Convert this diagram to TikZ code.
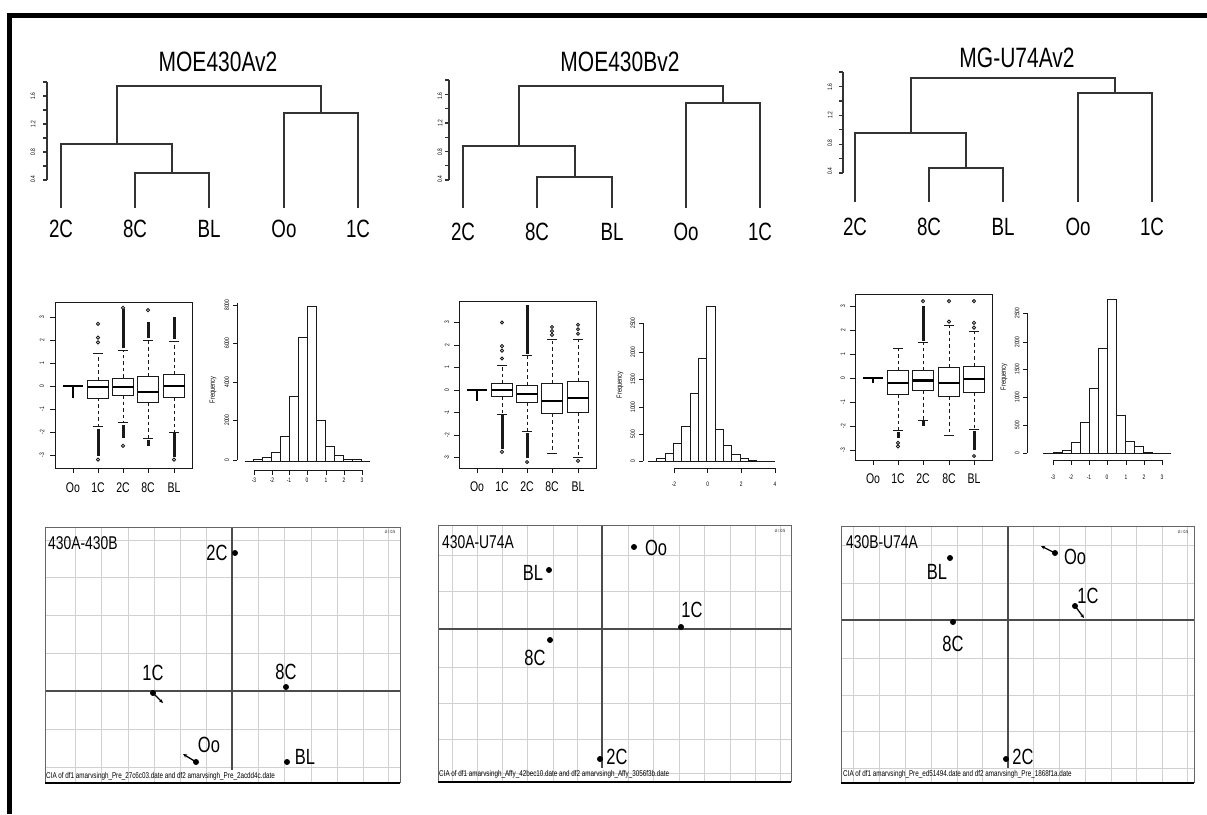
\documentclass[tikz,border=0pt]{standalone}
\usepackage{fontspec}
\setmainfont{Liberation Sans}
\newfontfamily\cf[FakeStretch=0.75]{Liberation Sans}
\usetikzlibrary{arrows.meta}
\tikzset{
 tt/.style={font=\cf\fontsize{28}{30}\selectfont, inner sep=0pt, text=black},
 leaf/.style={font=\cf\fontsize{25}{27}\selectfont, inner sep=0pt, text=black},
 tk/.style={font=\cf\fontsize{6.5}{7}\selectfont, inner sep=0pt, rotate=90, text=black},
 tkh/.style={font=\cf\fontsize{6.5}{7}\selectfont, inner sep=0pt, text=black},
 bxl/.style={font=\cf\fontsize{14}{15}\selectfont, inner sep=0pt, text=black},
 frq/.style={font=\cf\fontsize{7.5}{8}\selectfont, inner sep=0pt, rotate=90, text=black},
 ptl/.style={font=\cf\fontsize{22}{23}\selectfont, inner sep=0pt, text=black},
 ptt/.style={font=\cf\fontsize{18.5}{20}\selectfont, inner sep=0pt, text=black},
 captxt/.style={font=\cf\fontsize{8.4}{9}\selectfont, inner sep=0pt, anchor=west, text=black},
 dtxt/.style={font=\cf\fontsize{4.5}{5}\selectfont, inner sep=0pt, text=black},
 dl/.style={line width=1.2pt, draw=black!80},
 bpl/.style={line width=0.9pt, draw=black!90},
 hb/.style={line width=0.9pt, draw=black!90},
 grd/.style={line width=0.8pt, draw=black!18},
 ax/.style={line width=1.1pt, draw=black!70},
 fr/.style={line width=1pt, draw=black!60},
 dot/.style={fill=black},
 arw/.style={line width=1.3pt, -{Stealth[length=4pt,width=3.5pt]}},
}
\newcommand\bpx[6]{%
 \draw[bpl] ({#1-10.5},{\yz-(#3)*\un}) rectangle ({#1+10.5},{\yz-(#5)*\un});
 \draw[line width=2.2pt] ({#1-10.5},{\yz-(#4)*\un}) -- ({#1+10.5},{\yz-(#4)*\un});
 \draw[bpl,dash pattern=on 3.5pt off 3pt] (#1,{\yz-(#3)*\un}) -- (#1,{\yz-(#2)*\un});
 \draw[bpl,dash pattern=on 3.5pt off 3pt] (#1,{\yz-(#5)*\un}) -- (#1,{\yz-(#6)*\un});
 \draw[bpl] ({#1-5},{\yz-(#2)*\un}) -- ({#1+5},{\yz-(#2)*\un});
 \draw[bpl] ({#1-5},{\yz-(#6)*\un}) -- ({#1+5},{\yz-(#6)*\un});
}
\newcommand\odn[3]{\draw[line width=3pt, draw=black!90] (#1,{\yz-(#2)*\un}) -- (#1,{\yz-(#3)*\un});}
\newcommand\ocr[2]{\draw[line width=0.9pt, draw=black!90] (#1,{\yz-(#2)*\un}) circle[radius=1.6pt];}
\newcommand\ooo[2]{%
 \draw[line width=2.6pt] ({#1-10},\yz) -- ({#1+10},\yz);
 \draw[line width=1.8pt] (#1,\yz) -- (#1,{\yz-(#2)*\un});
}
\newcommand\hist[4]{%
 \foreach \t [count=\i from 0] in {#4} \draw[hb] ({#1+\i*#2},#3) rectangle ({#1+(\i+1)*#2},\t);
}
\begin{document}
\begin{tikzpicture}[x=1pt,y=-1pt]
\useasboundingbox (0,0) rectangle (1207,814);
\fill[white] (0,0) rectangle (1207,814);
% outer frame (top and left)
\fill[black] (7,13) rectangle (1207,18);
\fill[black] (7,13) rectangle (12,814);

% ================= Dendrograms =================
% panel 1
\node[tt] (t1) at (218,62) {MOE430Av2};
\draw[dl] (47,82) -- (47,180);
\foreach \y in {82,96,110,124,138,152,166,180} \draw[dl] (47,\y) -- (43,\y);
\node[tk] (a11) at (33,96) {1.6};
\node[tk] (a12) at (33,124) {1.2};
\node[tk] (a13) at (33,152) {0.8};
\node[tk] (a14) at (33,179) {0.4};
\draw[dl] (135,208) -- (135,173) -- (209,173) -- (209,208);
\draw[dl] (61,208) -- (61,144) -- (172,144) -- (172,173);
\draw[dl] (284,208) -- (284,113) -- (358,113) -- (358,208);
\draw[dl] (117,144) -- (117,86) -- (321,86) -- (321,113);
\node[leaf] (l11) at (61,229) {2C};
\node[leaf] (l12) at (135,229) {8C};
\node[leaf] (l13) at (209,229) {BL};
\node[leaf] (l14) at (284,229) {Oo};
\node[leaf] (l15) at (358,229) {1C};

% panel 2
\node[tt] (t2) at (620,62) {MOE430Bv2};
\draw[dl] (449,80) -- (449,180);
\foreach \y in {80,94.3,108.6,122.9,137.1,151.4,165.7,180} \draw[dl] (449,\y) -- (445,\y);
\node[tk] (a21) at (440,96) {1.6};
\node[tk] (a22) at (440,123) {1.2};
\node[tk] (a23) at (440,152) {0.8};
\node[tk] (a24) at (440,179) {0.4};
\draw[dl] (537,208) -- (537,177) -- (612,177) -- (612,208);
\draw[dl] (463,208) -- (463,146) -- (575,146) -- (575,177);
\draw[dl] (686,208) -- (686,103) -- (760,103) -- (760,208);
\draw[dl] (519,146) -- (519,86) -- (723,86) -- (723,103);
\node[leaf] (l21) at (463,232) {2C};
\node[leaf] (l22) at (537,232) {8C};
\node[leaf] (l23) at (612,232) {BL};
\node[leaf] (l24) at (686,232) {Oo};
\node[leaf] (l25) at (760,232) {1C};

% panel 3
\node[tt] (t3) at (1017,58) {MG-U74Av2};
\draw[dl] (843,72) -- (843,173);
\foreach \y in {72,86.4,100.9,115.3,129.7,144.1,158.6,173} \draw[dl] (843,\y) -- (839,\y);
\node[tk] (a31) at (830,87) {1.6};
\node[tk] (a32) at (830,115) {1.2};
\node[tk] (a33) at (830,143) {0.8};
\node[tk] (a34) at (830,171) {0.4};
\draw[dl] (929,202) -- (929,168) -- (1003,168) -- (1003,202);
\draw[dl] (855,202) -- (855,133) -- (966,133) -- (966,168);
\draw[dl] (1078,202) -- (1078,93) -- (1152,93) -- (1152,202);
\draw[dl] (911,133) -- (911,78) -- (1115,78) -- (1115,93);
\node[leaf] (l31) at (855,227) {2C};
\node[leaf] (l32) at (929,227) {8C};
\node[leaf] (l33) at (1003,227) {BL};
\node[leaf] (l34) at (1078,227) {Oo};
\node[leaf] (l35) at (1152,227) {1C};

% ================= Boxplots =================
% panel 1
\def\yz{386}\def\un{23}
\draw[bpl] (55,302) rectangle (192,468);
\foreach \v in {-3,...,3} {
  \draw[bpl] (55,{\yz-\v*\un}) -- (50,{\yz-\v*\un});
  \node[tk] (b1y\v) at (42,{\yz-\v*\un}) {\v};
}
\ooo{73}{-0.5}
\bpx{98}{1.43}{0.26}{-0.05}{-0.52}{-1.78}
\ocr{98}{1.9}\ocr{98}{2.1}\ocr{98}{2.7}\odn{98}{-1.85}{-3.05}\ocr{98}{-3.2}
\bpx{123}{1.56}{0.35}{-0.05}{-0.4}{-1.6}
\odn{123}{1.65}{3.35}\ocr{123}{3.4}\odn{123}{-1.68}{-2.25}\ocr{123}{-2.6}
\bpx{148}{2.0}{0.4}{-0.25}{-0.7}{-2.3}
\odn{148}{2.08}{2.8}\ocr{148}{3.3}\odn{148}{-2.35}{-2.6}
\bpx{174}{1.95}{0.5}{0}{-0.5}{-2.0}
\odn{174}{2.05}{3.0}\odn{174}{-2.05}{-3.1}\ocr{174}{-3.2}
\foreach \xc/\lb [count=\i] in {73/Oo,98/1C,123/2C,148/8C,174/BL} {
  \draw[bpl] (\xc,468) -- (\xc,473);
  \node[bxl] (b1x\i) at (\xc,488) {\lb};
}
% histogram 1
\hist{253.3}{9.05}{461}{459,457.3,452.7,436,396.7,337.7,306,420,446.7,455,459,459.3}
\draw[hb] (245,461) -- (370,461);
\draw[hb] (237,303) -- (237,460);
\foreach \y/\lb [count=\i] in {460/0,420/2000,382/4000,343/6000,305/8000} {
  \draw[hb] (237,\y) -- (233,\y);
  \node[tk] (h1y\i) at (227,\y) {\lb};
}
\node[frq] (h1f) at (213,390) {Frequency};
\draw[hb] (254,470) -- (362,470);
\foreach \x/\lb [count=\i] in {254/-3,272/-2,289/-1,307/0,326/1,344/2,362/3} {
  \draw[hb] (\x,470) -- (\x,475);
  \node[tkh] (h1x\i) at (\x,480) {\lb};
}

% panel 2
\def\yz{390}\def\un{22.5}
\draw[bpl] (459,301) rectangle (596,468);
\foreach \v in {-3,...,3} {
  \draw[bpl] (459,{\yz-\v*\un}) -- (454,{\yz-\v*\un});
  \node[tk] (b2y\v) at (447,{\yz-\v*\un}) {\v};
}
\ooo{477}{-0.5}
\bpx{502}{1.07}{0.27}{0}{-0.3}{-1.07}
\ocr{502}{1.4}\ocr{502}{1.75}\ocr{502}{1.95}\ocr{502}{3.0}\odn{502}{-1.12}{-2.6}\ocr{502}{-2.75}
\bpx{527}{1.55}{0.22}{-0.17}{-0.55}{-1.85}
\odn{527}{1.6}{3.8}\odn{527}{-1.9}{-3.0}\ocr{527}{-3.2}
\bpx{552}{2.25}{0.3}{-0.5}{-1.05}{-2.8}
\ocr{552}{2.45}\ocr{552}{2.62}\ocr{552}{2.8}
\bpx{578}{2.25}{0.38}{-0.37}{-1.0}{-3.0}
\ocr{578}{2.5}\ocr{578}{2.7}\ocr{578}{2.9}\ocr{578}{-3.15}
\foreach \xc/\lb [count=\i] in {477/Oo,502/1C,527/2C,552/8C,578/BL} {
  \draw[bpl] (\xc,468) -- (\xc,473);
  \node[bxl] (b2x\i) at (\xc,487) {\lb};
}
% histogram 2
\hist{656.7}{8.35}{461}{458.3,453.3,443.3,426.7,393.3,358.3,306.7,429.3,445.7,454.3,458.3,460}
\draw[hb] (648,461) -- (775,461);
\draw[hb] (643,323) -- (643,461);
\foreach \y/\lb [count=\i] in {461/0,434/500,407/1000,379/1500,352/2000,323/2500} {
  \draw[hb] (643,\y) -- (639,\y);
  \node[tk] (h2y\i) at (633,\y) {\lb};
}
\node[frq] (h2f) at (620,385) {Frequency};
\draw[hb] (674,468) -- (775,468);
\foreach \x/\lb [count=\i] in {674/-2,707.7/0,741.3/2,775/4} {
  \draw[hb] (\x,468) -- (\x,473);
  \node[tkh] (h2x\i) at (\x,484) {\lb};
}

% panel 3
\def\yz{378}\def\un{24}
\draw[bpl] (855,294) rectangle (992,460);
\foreach \v in {-3,...,3} {
  \draw[bpl] (855,{\yz-\v*\un}) -- (850,{\yz-\v*\un});
  \node[tk] (b3y\v) at (843,{\yz-\v*\un}) {\v};
}
\ooo{873}{-0.2}
\bpx{898}{1.25}{0.3}{-0.2}{-0.7}{-2.2}
\odn{898}{-2.25}{-2.5}\ocr{898}{-2.7}\ocr{898}{-2.85}
\bpx{923}{1.5}{0.3}{-0.1}{-0.5}{-1.75}
\odn{923}{1.55}{3.0}\ocr{923}{3.2}\odn{923}{-1.8}{-2.0}
\bpx{949}{2.2}{0.45}{-0.2}{-0.75}{-2.4}
\ocr{949}{2.35}\ocr{949}{3.2}
\bpx{974}{1.95}{0.5}{-0.05}{-0.6}{-2.15}
\ocr{974}{2.1}\ocr{974}{2.3}\ocr{974}{3.2}\odn{974}{-2.2}{-3.0}\ocr{974}{-3.25}
\foreach \xc/\lb [count=\i] in {873/Oo,898/1C,923/2C,949/8C,974/BL} {
  \draw[bpl] (\xc,460) -- (\xc,465);
  \node[bxl] (b3x\i) at (\xc,479) {\lb};
}
% histogram 3
\hist{1053.3}{9.0}{453.3}{452.7,450.7,442.7,422.7,388.3,348.3,299.3,415,441,446.7,452.3,453}
\draw[hb] (1043,453.3) -- (1171,453.3);
\draw[hb] (1027,313) -- (1027,453);
\foreach \y/\lb [count=\i] in {453/0,425/500,397/1000,369/1500,342/2000,313/2500} {
  \draw[hb] (1027,\y) -- (1023,\y);
  \node[tk] (h3y\i) at (1017,\y) {\lb};
}
\node[frq] (h3f) at (1004,377) {Frequency};
\draw[hb] (1053,460) -- (1162,460);
\foreach \x/\lb [count=\i] in {1053/-3,1071/-2,1089/-1,1107/0,1126/1,1144/2,1162/3} {
  \draw[hb] (\x,460) -- (\x,465);
  \node[tkh] (h3x\i) at (\x,477) {\lb};
}

% ================= CIA plots =================
% panel 1
\foreach \gx in {75,101,128,154,180,206,258,284,311,337,363,388} \draw[grd] (\gx,527) -- (\gx,783);
\foreach \gy in {540,577,615,653,729,767} \draw[grd] (45,\gy) -- (400,\gy);
\draw[ax] (232,527) -- (232,770);
\draw[ax] (45,691) -- (400,691);
\draw[fr] (45,783) -- (45,527) -- (400,527) -- (400,783);
\draw[line width=2pt] (45,783) -- (400,783);
\node[ptt, anchor=west] (c1t) at (48,543) {430A-430B};
\node[dtxt] (c1d) at (390,532) {d = 0.5};
\fill[dot] (235,553) circle[radius=3pt] coordinate (p12C);
\node[ptl] (n12C) at (217,553) {2C};
\fill[dot] (153,693) circle[radius=3pt] coordinate (p11C);
\coordinate (e11C) at (163,703);
\draw[arw] (p11C) -- (e11C);
\node[ptl] (n11C) at (153,673) {1C};
\fill[dot] (286,687) circle[radius=3pt] coordinate (p18C);
\node[ptl] (n18C) at (286,672) {8C};
\fill[dot] (196,762) circle[radius=3pt] coordinate (p1Oo);
\coordinate (e1Oo) at (183,754);
\draw[arw] (p1Oo) -- (e1Oo);
\node[ptl] (n1Oo) at (209,745) {Oo};
\fill[dot] (287,762) circle[radius=3pt] coordinate (p1BL);
\node[ptl] (n1BL) at (305,757) {BL};
\node[captxt] (c1c) at (46,776) {CIA of df1 amarvsingh\_Pre\_27c6c03.date and df2 amarvsingh\_Pre\_2acdd4c.date};

% panel 2
\foreach \gx in {452,477,502,527,553,577,628,653,679,704,730,755,780} \draw[grd] (\gx,525) -- (\gx,782);
\foreach \gy in {555,591,667,703,739,773} \draw[grd] (438,\gy) -- (791,\gy);
\draw[ax] (602,525) -- (602,768);
\draw[ax] (438,629) -- (791,629);
\draw[fr] (438,782) -- (438,525) -- (791,525) -- (791,782);
\draw[line width=2pt] (438,782) -- (791,782);
\node[ptt, anchor=west] (c2t) at (442,542) {430A-U74A};
\node[dtxt] (c2d) at (780,531) {d = 0.5};
\fill[dot] (634,547) circle[radius=3pt] coordinate (p2Oo);
\node[ptl] (n2Oo) at (656,548) {Oo};
\fill[dot] (549,570) circle[radius=3pt] coordinate (p2BL);
\node[ptl] (n2BL) at (533,573) {BL};
\fill[dot] (681,627) circle[radius=3pt] coordinate (p21C);
\node[ptl] (n21C) at (692,610) {1C};
\fill[dot] (550,640) circle[radius=3pt] coordinate (p28C);
\node[ptl] (n28C) at (535,658) {8C};
\fill[dot] (600,759) circle[radius=3pt] coordinate (p22C);
\node[ptl] (n22C) at (617,757) {2C};
\node[captxt] (c2c) at (439,774) {CIA of df1 amarvsingh\_Affy\_42bec10.date and df2 amarvsingh\_Affy\_3056f3b.date};

% panel 3
\foreach \gx in {853,879,905,931,957,982,1033,1059,1085,1111,1136,1162,1187} \draw[grd] (\gx,526) -- (\gx,783);
\foreach \gy in {545,583,658,695,731,768} \draw[grd] (841,\gy) -- (1194,\gy);
\draw[ax] (1008,526) -- (1008,768);
\draw[ax] (841,620) -- (1194,620);
\draw[fr] (841,783) -- (841,526) -- (1194,526) -- (1194,783);
\draw[line width=2pt] (841,783) -- (1194,783);
\node[ptt, anchor=west] (c3t) at (846,542) {430B-U74A};
\node[dtxt] (c3d) at (1183,532) {d = 0.5};
\fill[dot] (950,558) circle[radius=3pt] coordinate (p3BL);
\node[ptl] (n3BL) at (937,572) {BL};
\fill[dot] (1055,553) circle[radius=3pt] coordinate (p3Oo);
\coordinate (e3Oo) at (1041,546);
\draw[arw] (p3Oo) -- (e3Oo);
\node[ptl] (n3Oo) at (1075,557) {Oo};
\fill[dot] (1075,606) circle[radius=3pt] coordinate (p31C);
\coordinate (e31C) at (1084,618);
\draw[arw] (p31C) -- (e31C);
\node[ptl] (n31C) at (1088,596) {1C};
\fill[dot] (953,622) circle[radius=3pt] coordinate (p38C);
\node[ptl] (n38C) at (953,644) {8C};
\fill[dot] (1006,759) circle[radius=3pt] coordinate (p32C);
\node[ptl] (n32C) at (1023,757) {2C};
\node[captxt] (c3c) at (843,774) {CIA of df1 amarvsingh\_Pre\_ed51494.date and df2 amarvsingh\_Pre\_1868f1a.date};
\end{tikzpicture}
\end{document}
